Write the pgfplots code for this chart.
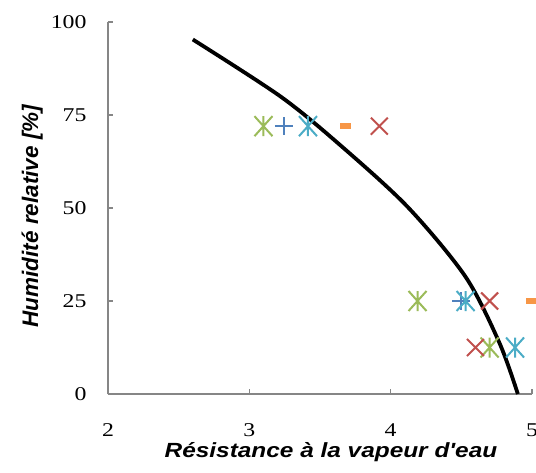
\documentclass[border=0pt]{standalone}
\usepackage{fontspec}
\setmainfont{Liberation Serif}[FakeStretch=1.22]
\newfontfamily\arialfont{Liberation Sans}[FakeStretch=1.19]
\newfontfamily\arialplain{Liberation Sans}
\usepackage{pgfplots}
\pgfplotsset{compat=1.18}
\usetikzlibrary{calc}
\definecolor{xlgreen}{HTML}{9BBB59}
\definecolor{xlblue}{HTML}{4F81BD}
\definecolor{xlcyan}{HTML}{4BACC6}
\definecolor{xlorange}{HTML}{F79646}
\definecolor{xlred}{HTML}{C0504D}
\definecolor{axgray}{HTML}{868686}
\pgfdeclareplotmark{xstar}{%
  \pgfpathmoveto{\pgfqpoint{-0.9\pgfplotmarksize}{-\pgfplotmarksize}}%
  \pgfpathlineto{\pgfqpoint{0.9\pgfplotmarksize}{\pgfplotmarksize}}%
  \pgfpathmoveto{\pgfqpoint{-0.9\pgfplotmarksize}{\pgfplotmarksize}}%
  \pgfpathlineto{\pgfqpoint{0.9\pgfplotmarksize}{-\pgfplotmarksize}}%
  \pgfpathmoveto{\pgfqpoint{0pt}{-\pgfplotmarksize}}%
  \pgfpathlineto{\pgfqpoint{0pt}{\pgfplotmarksize}}%
  \pgfusepathqstroke}
\pgfdeclareplotmark{xdash}{%
  \pgfpathrectangle{\pgfqpoint{-0.65\pgfplotmarksize}{-0.33\pgfplotmarksize}}{\pgfqpoint{1.3\pgfplotmarksize}{0.66\pgfplotmarksize}}%
  \pgfusepathqfill}
\begin{document}
\begin{tikzpicture}
\begin{axis}[
  name=ax,
  width=424pt, height=372pt, scale only axis,
  xmin=2, xmax=5, ymin=0, ymax=100,
  xtick={2,3,4,5}, ytick={0,25,50,75,100},
  axis x line=bottom, axis y line=left,
  axis line style={-, draw=axgray, line width=1.6pt},
  tick style={draw=axgray, line width=1.2pt},
  tick align=inside, major tick length=5pt,
  clip=false,
  /pgf/number format/assume math mode=true,
  ticklabel style={font=\fontsize{19.5}{22}\selectfont},
  xticklabel style={yshift=-26pt},
  yticklabel style={xshift=-18pt},
  xlabel={\arialfont\bfseries\itshape Résistance à la vapeur d'eau},
  ylabel={\arialplain\bfseries\itshape Humidité relative [\%]},
  xlabel style={font=\fontsize{20.5}{24}\selectfont, yshift=1pt, xshift=11pt},
  ylabel style={font=\fontsize{22.5}{26}\selectfont, yshift=1pt, xshift=-8pt},
]
\addplot[only marks, mark=xstar, mark size=10pt, draw=xlgreen, line width=2pt] coordinates {(3.10,72) (4.19,25) (4.70,12.5)};
\addplot[only marks, mark=+, mark size=9pt, draw=xlblue, line width=2pt] coordinates {(3.245,72) (4.50,25)};
\addplot[only marks, mark=xstar, mark size=10pt, draw=xlcyan, line width=2pt] coordinates {(3.415,72) (4.53,25) (4.88,12.5)};
\addplot[only marks, mark=xdash, mark size=9pt, fill=xlorange, draw=xlorange] coordinates {(3.68,72) (5.0,25)};
\addplot[only marks, mark=x, mark size=12pt, draw=xlred, line width=2pt] coordinates {(3.92,72) (4.70,25) (4.60,12.5)};
\addplot[black, line width=3.8pt, smooth, no marks] coordinates {
(2.60,95.3) (3.22,80.0) (3.64,67.0) (4.12,50.3) (4.53,31.5) (4.77,13.7) (4.90,0)};
\end{axis}
\pgfresetboundingbox
\path ($(ax.south west)+(-108pt,-78pt)$) rectangle ($(ax.north east)+(4pt,22pt)$);
\end{tikzpicture}
\end{document}
